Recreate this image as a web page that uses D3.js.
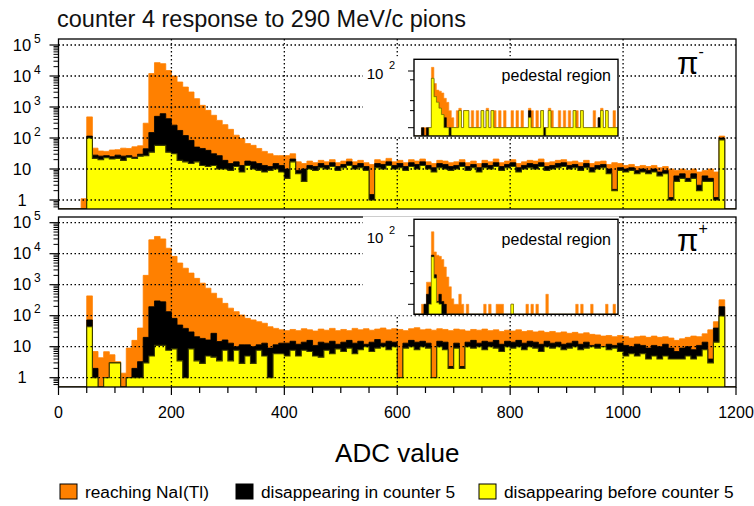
<!DOCTYPE html>
<html>
<head>
<meta charset="utf-8">
<script src="https://cdn.jsdelivr.net/npm/d3@7/dist/d3.min.js"></script>
<style>
  body { margin: 0; background: #fff; }
  svg { display: block; font-family: "Liberation Sans", Arial, sans-serif; }
</style>
</head>
<body>
<svg width="754" height="506"></svg>
<script>
// binning van de ADC histogrammen (10 ADC per bin, eerste bin begint op 40)
const binStart = 40;
const binWidth = 10;
const adcTicks = [0, 200, 400, 600, 800, 1000, 1200];
const decadeTicks = [1, 10, 100, 1000, 10000, 100000];
const pedTicks = [10, 20, 30, 70, 100];
const legendLabels = ["reaching NaI(Tl)", "disappearing in counter 5", "disappearing before counter 5"];

// pi- : bins 40..1170
const minusReaching = [
  1.1, 480, 47, 38, 37, 41,
  42, 47, 46, 52, 56, 300, 12000, 27000, 25000, 15000,
  10000, 6400, 4400, 3050, 1860, 1130, 780, 540, 370, 270,
  190, 123, 96, 66, 58, 46, 37, 31, 27, 27,
  27, 31, 17, 15, 18, 16, 19, 17, 20, 16,
  18, 21, 17, 19, 16, 14, 20, 18, 22, 17,
  19, 16, 20, 18, 21, 17, 15, 19, 18, 16,
  17, 20, 16, 18, 15, 19, 17, 21, 16, 18,
  20, 15, 17, 19, 18, 21, 16, 17, 19, 20,
  17, 18, 16, 19, 15, 17, 18, 14, 16, 15,
  13, 14, 12, 13, 12, 13, 11, 12, 10, 9,
  10, 9, 10, 8, 9, 10, 8, 115
];
const minusInC5 = [
  0, 115, 28, 26, 27, 25,
  28, 26, 27, 24, 30, 45, 150, 500, 610, 420,
  260, 175, 120, 84, 51, 46, 40, 31, 27, 19,
  15, 17, 13, 18, 17, 15, 13, 12, 15, 13,
  10, 21, 9, 10, 13, 12, 15, 13, 16, 12,
  14, 17, 13, 15, 12, 1.5, 15, 14, 17, 13,
  15, 12, 16, 14, 17, 13, 11, 15, 14, 12,
  13, 16, 12, 14, 11, 15, 13, 16, 12, 14,
  16, 11, 13, 15, 14, 16, 12, 13, 15, 16,
  13, 14, 12, 15, 11, 13, 14, 10, 2.2, 11,
  10, 11, 9, 10, 9, 10, 8, 9, 1.2, 6,
  7, 5, 7, 3, 6, 5, 1.2, 100
];
const minusBeforeC5 = [
  0, 100, 22, 20, 23, 21,
  22, 19, 24, 22, 26, 27, 35, 58, 58, 35,
  31, 19, 17, 15, 17, 13, 12, 13, 10, 10,
  9, 12, 8, 13, 10, 9, 8, 9, 10, 8,
  5, 17, 7, 4, 10, 9, 11, 10, 12, 9,
  11, 13, 10, 11, 9, 1, 11, 10, 13, 10,
  11, 9, 12, 10, 13, 10, 8, 11, 10, 9,
  10, 12, 9, 11, 8, 11, 10, 12, 9, 11,
  12, 8, 10, 11, 10, 12, 9, 10, 11, 12,
  10, 11, 9, 11, 8, 10, 11, 7, 2, 9,
  8, 9, 7, 8, 7, 8, 6, 7, 1, 4,
  5, 4, 5, 2, 4, 4, 1, 87
];

// pi+ : bins 40..1170
const plusReaching = [
  0, 436, 7, 4.4, 6.9, 5.5,
  3.3, 1.4, 9, 16, 40, 2000, 28000, 36000, 30000, 15000,
  8200, 5000, 3400, 2370, 1600, 1120, 770, 530, 365, 250,
  175, 135, 105, 82, 73, 64, 57, 44, 39, 35,
  33, 36, 33, 38, 35, 32, 37, 34, 39, 33,
  36, 33, 39, 35, 38, 34, 37, 40, 35, 38,
  36, 33, 38, 41, 35, 37, 34, 38, 36, 33,
  37, 35, 32, 36, 34, 37, 33, 35, 31, 34,
  32, 35, 31, 33, 30, 32, 29, 31, 28, 30,
  27, 29, 26, 28, 25, 24, 22, 23, 21, 23,
  21, 19, 21, 22, 20, 22, 20, 21, 19, 16,
  18, 20, 22, 21, 26, 35, 64, 324
];
const plusInC5 = [
  0, 73, 2, 0, 1, 3,
  3, 0, 1, 2, 3.3, 20, 195, 300, 280, 135,
  82, 50, 39, 30, 21, 18.5, 16.5, 27, 14.7, 16.5,
  13, 10, 11.5, 11.5, 10, 11.5, 13, 9, 11.5, 13,
  13, 15, 12, 14, 16, 11, 14, 13, 15, 12,
  14, 16, 13, 15, 12, 14, 17, 13, 15, 14,
  1, 13, 16, 14, 15, 13, 1, 15, 14, 2.3,
  13, 2.3, 14, 16, 13, 15, 14, 16, 12, 15,
  14, 16, 13, 15, 14, 12, 15, 13, 14, 12,
  13, 15, 12, 14, 11, 12, 10, 12, 11, 13,
  11, 10, 12, 11, 9, 11, 10, 12, 9, 7,
  9, 10, 8, 11, 14, 4, 40, 195
];
const plusBeforeC5 = [
  0, 44, 1, 0, 1, 3,
  3, 0, 1, 1, 1, 3, 5, 11, 11, 7.7,
  8.5, 3.5, 1, 8.5, 3.5, 2.9, 5, 4.6, 3.5, 7.7,
  3.5, 7.7, 2.9, 5, 2.9, 7.7, 5, 1, 6, 6,
  5, 7.7, 5, 7.7, 7, 5, 4.6, 7.7, 6, 8.5,
  7, 9, 6, 8, 10, 7, 9, 10, 8, 10,
  1, 9, 10, 8, 10, 9, 1, 10, 8, 2,
  9, 2, 10, 9, 10, 8, 10, 9, 7, 10,
  9, 10, 8, 10, 9, 7, 10, 9, 10, 8,
  9, 10, 8, 9, 10, 9, 10, 8, 9, 7,
  5, 6, 5, 6, 4, 5, 4, 5, 4, 4,
  4, 5, 4, 5, 8, 3, 14, 98
];

// pedestal region (inzet), 82 smalle bins
const pedMinusReaching = [
  0, 0, 0, 10, 10, 10, 10, 116, 60, 46,
  44, 41, 33, 28, 20, 15, 10, 20, 22, 10,
  20, 20, 10, 20, 10, 20, 10, 20, 10, 22,
  10, 20, 20, 10, 20, 10, 20, 10, 10, 20,
  10, 20, 10, 20, 10, 10, 22, 20, 10, 20,
  10, 20, 10, 10, 22, 20, 10, 10, 20, 10,
  20, 10, 20, 10, 20, 20, 10, 20, 10, 10,
  10, 10, 20, 10, 15, 22, 10, 20, 10, 10,
  20, 10
];
const pedMinusInC5 = [
  0, 0, 0, 10, 0, 10, 10, 74, 35, 28,
  22, 17, 15, 10, 10, 10, 10, 10, 20, 10,
  20, 20, 10, 10, 10, 10, 10, 20, 10, 20,
  10, 20, 10, 10, 10, 10, 10, 10, 10, 10,
  10, 10, 10, 10, 10, 10, 20, 10, 10, 10,
  10, 20, 10, 10, 20, 10, 10, 10, 10, 10,
  10, 10, 10, 10, 20, 10, 10, 20, 10, 10,
  10, 10, 10, 10, 15, 20, 10, 20, 10, 10,
  10, 10
];
const pedMinusBeforeC5 = [
  0, 0, 0, 0, 0, 0, 10, 74, 35, 28,
  22, 17, 10, 10, 0, 10, 10, 10, 20, 10,
  20, 20, 10, 10, 10, 10, 10, 20, 10, 20,
  10, 20, 10, 10, 10, 10, 10, 10, 10, 10,
  10, 10, 10, 10, 10, 10, 15, 10, 10, 10,
  10, 20, 0, 10, 20, 10, 10, 10, 10, 10,
  10, 10, 10, 10, 20, 10, 10, 20, 10, 10,
  10, 10, 10, 10, 10, 20, 10, 20, 10, 10,
  10, 10
];
const pedPlusReaching = [
  0, 0, 0, 10, 10, 21, 21, 114, 58, 52,
  50, 45, 35, 25, 18, 12, 10, 10, 14, 10,
  0, 10, 0, 0, 0, 0, 0, 0, 10, 0,
  10, 0, 0, 10, 10, 10, 0, 0, 0, 10,
  0, 0, 0, 0, 0, 10, 0, 10, 0, 10,
  0, 0, 0, 14, 0, 0, 0, 0, 0, 0,
  0, 0, 0, 0, 0, 10, 0, 10, 0, 0,
  0, 10, 0, 0, 0, 0, 0, 10, 0, 0,
  10, 0
];
const pedPlusInC5 = [
  0, 0, 0, 0, 10, 14, 18, 52, 27, 11,
  14, 11, 10, 0, 0, 0, 0, 0, 0, 0,
  0, 0, 0, 0, 0, 0, 0, 0, 0, 0,
  0, 0, 0, 0, 0, 0, 0, 0, 0, 10,
  0, 0, 0, 0, 0, 0, 0, 0, 0, 0,
  0, 0, 0, 0, 0, 0, 0, 0, 0, 0,
  0, 0, 0, 0, 0, 0, 0, 0, 0, 0,
  0, 0, 0, 0, 0, 0, 0, 0, 0, 0,
  0, 0
];
const pedPlusBeforeC5 = [
  0, 0, 0, 0, 0, 0, 10, 49, 24, 10.5,
  10, 0, 0, 0, 0, 0, 0, 0, 0, 0,
  0, 0, 0, 0, 0, 0, 0, 0, 0, 0,
  0, 0, 0, 0, 0, 0, 0, 0, 0, 10,
  0, 0, 0, 0, 0, 0, 0, 0, 0, 0,
  0, 0, 0, 0, 0, 0, 0, 0, 0, 0,
  0, 0, 0, 0, 0, 0, 0, 0, 0, 0,
  0, 0, 0, 0, 0, 0, 0, 0, 0, 0,
  0, 0
];

// kleuren: oranje achter, zwart midden, geel voor
var fills = ["#ff8000", "#000000", "#ffff00"];
var strokes = ["#ff8000", "#000000", "#3a3a00"];
var pedStrokes = ["#ff8c1a", "#000000", "#9a9a00"];

var svg = d3.select("svg");
var x = d3.scaleLinear().domain([0, 1200]).range([58.5, 736]);

var panels = [
  { top: 39, bottom: 209, yOne: 200, yMax: 45,
    series: [minusReaching, minusInC5, minusBeforeC5],
    ped: [pedMinusReaching, pedMinusInC5, pedMinusBeforeC5],
    box: { top: 59.3, bottom: 136, y10: 127.7, y100: 71, textY: 81 },
    pion: "-", pionY: 74 },
  { top: 217, bottom: 387, yOne: 377.7, yMax: 222.7,
    series: [plusReaching, plusInC5, plusBeforeC5],
    ped: [pedPlusReaching, pedPlusInC5, pedPlusBeforeC5],
    box: { top: 219.3, bottom: 314.3, y10: 304.3, y100: 235.7, textY: 245 },
    pion: "+", pionY: 251 }
];

// titel
svg.append("text")
  .attr("x", 57)
  .attr("y", 27)
  .attr("font-size", "23.5px")
  .attr("fill", "#111")
  .text("counter 4 response to 290 MeV/c pions");

// een histogram als trap-vlak met rand
function drawHist(g, values, start, width, xs, ys, vmin, bottom, fill, stroke, sw) {
  var pts = [[xs.domain()[0], 0]];
  values.forEach(function(v, i) { pts.push([start + i * width, v]); });
  pts.push([start + values.length * width, 0]);
  pts.push([xs.domain()[1], 0]);
  var yv = function(d) { return ys(Math.max(d[1], vmin)); };

  g.append("path")
    .datum(pts)
    .attr("d", d3.area().curve(d3.curveStepAfter)
      .x(function(d) { return xs(d[0]); }).y0(bottom).y1(yv))
    .attr("fill", fill);

  g.append("path")
    .datum(pts)
    .attr("d", d3.line().curve(d3.curveStepAfter)
      .x(function(d) { return xs(d[0]); }).y(yv))
    .attr("fill", "none")
    .attr("stroke", stroke)
    .attr("stroke-width", sw);
}

// label 10^n met superscript
function powLabel(g, cx, cy, value, size, supSize) {
  if (value === 1) {
    g.append("text").attr("x", cx).attr("y", cy + size * 0.35)
      .attr("text-anchor", "middle").attr("font-size", size + "px").text("1");
    return;
  }
  g.append("text").attr("x", cx).attr("y", cy + size * 0.35)
    .attr("text-anchor", "middle").attr("font-size", size + "px").text("10");
  var e = Math.round(Math.log10(value));
  if (e > 1) {
    g.append("text").attr("x", cx + size * 0.72).attr("y", cy - 2.5)
      .attr("font-size", supSize + "px").text(e);
  }
}

panels.forEach(function(p, k) {
  var y = d3.scaleLog().domain([1, 1e5]).range([p.yOne, p.yMax]);
  var vmin = y.invert(p.bottom);
  var g = svg.append("g");

  var clipId = "clip" + k;
  svg.append("clipPath").attr("id", clipId)
    .append("rect")
    .attr("x", x(0)).attr("y", p.top)
    .attr("width", x(1200) - x(0)).attr("height", p.bottom - p.top);

  var hg = g.append("g").attr("clip-path", "url(#" + clipId + ")");
  p.series.forEach(function(vals, i) {
    drawHist(hg, vals, binStart, binWidth, x, y, vmin, p.bottom, fills[i], strokes[i], i === 2 ? 1.1 : 0.8);
  });

  // stippel grid
  g.selectAll(".hgrid")
    .data(decadeTicks)
    .enter().append("line")
    .attr("x1", x(0)).attr("x2", x(1200))
    .attr("y1", function(d) { return y(d); })
    .attr("y2", function(d) { return y(d); })
    .attr("stroke", "#000").attr("stroke-width", 1.3)
    .attr("stroke-dasharray", "1.5,2.5");

  g.selectAll(".vgrid")
    .data(adcTicks.slice(1, -1))
    .enter().append("line")
    .attr("x1", function(d) { return x(d); })
    .attr("x2", function(d) { return x(d); })
    .attr("y1", p.top).attr("y2", p.bottom)
    .attr("stroke", "#000").attr("stroke-width", 1.3)
    .attr("stroke-dasharray", "1.5,2.5");

  // kader
  g.append("rect")
    .attr("x", x(0)).attr("y", p.top)
    .attr("width", x(1200) - x(0)).attr("height", p.bottom - p.top)
    .attr("fill", "none").attr("stroke", "#000").attr("stroke-width", 1.3);

  // y-as: log ticks naar buiten
  var minor = [];
  [0.1, 1, 10, 100, 1000, 10000].forEach(function(dec) {
    for (var m = 2; m <= 9; m++) {
      var v = dec * m;
      if (v > vmin && v < y.invert(p.top)) minor.push(v);
    }
  });
  g.selectAll(".minor")
    .data(minor)
    .enter().append("line")
    .attr("x1", x(0) - 5).attr("x2", x(0))
    .attr("y1", function(d) { return y(d); })
    .attr("y2", function(d) { return y(d); })
    .attr("stroke", "#000").attr("stroke-width", 1);
  g.selectAll(".major")
    .data(decadeTicks)
    .enter().append("line")
    .attr("x1", x(0) - 9).attr("x2", x(0))
    .attr("y1", function(d) { return y(d); })
    .attr("y2", function(d) { return y(d); })
    .attr("stroke", "#000").attr("stroke-width", 1.2);

  decadeTicks.forEach(function(d) { powLabel(g, 22, y(d), d, 16.5, 12); });

  // inzet: pedestal region
  var b = p.box;
  var xp = d3.scaleLinear().domain([0, 82]).range([414, 618]);
  var yp = d3.scaleLog().domain([10, 100]).range([b.y10, b.y100]);
  var pmin = yp.invert(b.bottom);

  g.append("rect")
    .attr("x", 363).attr("y", b.top - 3)
    .attr("width", 618 - 363 + 1).attr("height", b.bottom - b.top + 4)
    .attr("fill", "#fff");

  var pClip = "pclip" + k;
  svg.append("clipPath").attr("id", pClip)
    .append("rect")
    .attr("x", 414).attr("y", b.top)
    .attr("width", 204).attr("height", b.bottom - b.top);
  var pg = g.append("g").attr("clip-path", "url(#" + pClip + ")");
  p.ped.forEach(function(vals, i) {
    drawHist(pg, vals, 0, 1, xp, yp, pmin, b.bottom, fills[i], pedStrokes[i], 0.6);
  });

  g.append("rect")
    .attr("x", 414).attr("y", b.top)
    .attr("width", 204).attr("height", b.bottom - b.top)
    .attr("fill", "none").attr("stroke", "#000").attr("stroke-width", 1.4);

  g.selectAll(".pedtick")
    .data(pedTicks)
    .enter().append("line")
    .attr("x1", function(d) { return (d === 10 || d === 100) ? 408 : 410; })
    .attr("x2", 414)
    .attr("y1", function(d) { return yp(d); })
    .attr("y2", function(d) { return yp(d); })
    .attr("stroke", "#000").attr("stroke-width", 1);

  g.append("text").attr("x", 375).attr("y", b.y100 + 7.5)
    .attr("text-anchor", "middle").attr("font-size", "15px").text("10");
  g.append("text").attr("x", 389).attr("y", b.y100 - 2)
    .attr("font-size", "11px").text("2");

  g.append("text")
    .attr("x", 611).attr("y", b.textY)
    .attr("text-anchor", "end")
    .attr("font-size", "16px")
    .text("pedestal region");

  // pion label
  var pl = g.append("text").attr("x", 677).attr("y", p.pionY).attr("font-size", "31px");
  pl.append("tspan").text("\u03c0");
  pl.append("tspan").attr("dy", -17).attr("font-size", "16px").text(p.pion);
});

// x-as onder het onderste paneel
var xb = panels[1].bottom;
var xAxis = svg.append("g");
xAxis.selectAll(".xminor")
  .data(d3.range(0, 1201, 50))
  .enter().append("line")
  .attr("x1", function(d) { return x(d); })
  .attr("x2", function(d) { return x(d); })
  .attr("y1", xb)
  .attr("y2", function(d) { return xb + (d % 200 === 0 ? 8 : 6); })
  .attr("stroke", "#000").attr("stroke-width", 1.2);

xAxis.selectAll(".xlabel")
  .data(adcTicks)
  .enter().append("text")
  .attr("x", function(d) { return x(d); })
  .attr("y", 418)
  .attr("text-anchor", "middle")
  .attr("font-size", "16px")
  .text(function(d) { return d; });

svg.append("text")
  .attr("x", x(600))
  .attr("y", 462)
  .attr("text-anchor", "middle")
  .attr("font-size", "26px")
  .text("ADC value");

// legenda
var legendX = [60, 236, 479];
var legend = svg.append("g");
legendLabels.forEach(function(label, i) {
  legend.append("rect")
    .attr("x", legendX[i]).attr("y", 484)
    .attr("width", 17).attr("height", 15)
    .attr("fill", fills[i]).attr("stroke", "#000").attr("stroke-width", 1);
  legend.append("text")
    .attr("x", legendX[i] + 25).attr("y", 498)
    .attr("font-size", "17.3px")
    .text(label);
});
</script>
</body>
</html>
